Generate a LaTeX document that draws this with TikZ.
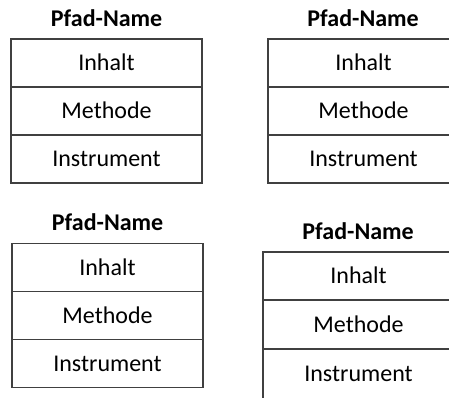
\documentclass[tikz,border=0pt]{standalone}
\usepackage{fontspec}
\setmainfont{Carlito}
\begin{document}
\begin{tikzpicture}[x=0.75pt,y=-0.75pt,
  cell/.style={draw=black!75, line width=1.1pt, minimum width=143.25pt,
    minimum height=36pt, inner sep=0pt, text height=11.6pt, text depth=0pt,
    font=\fontsize{18}{22}\selectfont},
  tallcell/.style={cell, minimum height=37.5pt},
  title/.style={inner sep=0pt, text height=11.6pt, text depth=0pt,
    font=\fontsize{18}{22}\selectfont\bfseries}]
\useasboundingbox (0,0) rectangle (449,397);
\clip (0,0) rectangle (449,397);
% top left
\node[title] (t1) at (106.5,18.5) {Pfad-Name};
\node[cell] (a1) at (106.5,63) {Inhalt};
\node[cell] (a2) at (106.5,111) {Methode};
\node[cell] (a3) at (106.5,159) {Instrument};
% top right
\node[title] (t2) at (363,18.5) {Pfad-Name};
\node[cell] (b1) at (363.5,63) {Inhalt};
\node[cell] (b2) at (363.5,111) {Methode};
\node[cell] (b3) at (363.5,159) {Instrument};
% bottom left
\node[title] (t3) at (107.5,223) {Pfad-Name};
\node[cell] (c1) at (107.5,267.5) {Inhalt};
\node[cell] (c2) at (107.5,315.5) {Methode};
\node[cell] (c3) at (107.5,363.5) {Instrument};
% bottom right
\node[title] (t4) at (358,232) {Pfad-Name};
\node[cell] (d1) at (358.5,276) {Inhalt};
\node[cell] (d2) at (358.5,324.5) {Methode};
\node[tallcell] (d3) at (358.5,374) {Instrument};
\end{tikzpicture}
\end{document}
